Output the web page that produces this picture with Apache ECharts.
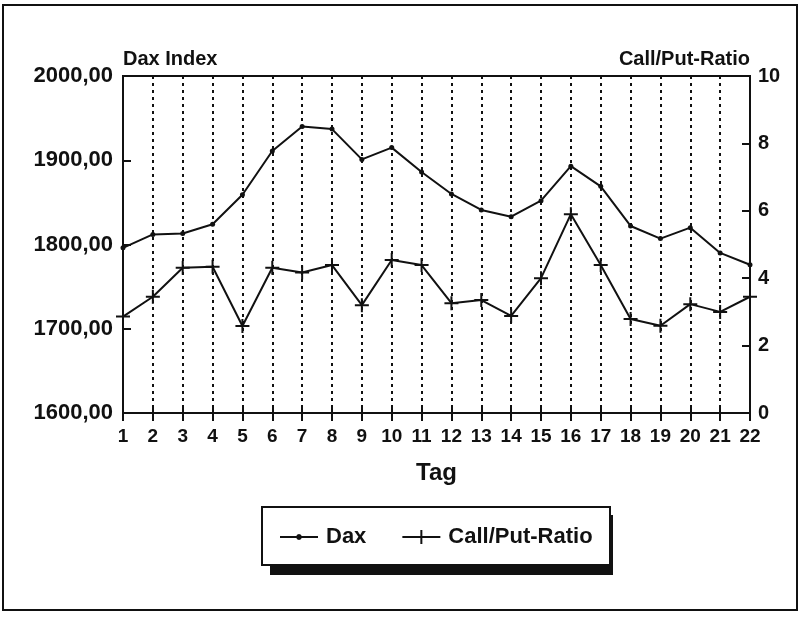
<!DOCTYPE html>
<html>
<head>
<meta charset="utf-8">
<script src="https://cdn.jsdelivr.net/npm/echarts@6/dist/echarts.min.js"></script>
<style>
  html, body { margin: 0; padding: 0; background: #fff; }
  #main { width: 800px; height: 618px; }
</style>
</head>
<body>
<div id="main"></div>
<script>
// Tage 1..22
var tage = ["1", "2", "3", "4", "5", "6", "7", "8", "9", "10", "11",
            "12", "13", "14", "15", "16", "17", "18", "19", "20", "21", "22"];
// Dax Index (linke Achse)
var dax = [1796, 1812, 1813, 1824, 1859, 1911, 1940, 1937, 1901, 1915, 1886,
           1860, 1841, 1833, 1852, 1893, 1869, 1822, 1807, 1820, 1790, 1776];
// Call/Put-Ratio (rechte Achse)
var ratio = [2.86, 3.45, 4.31, 4.34, 2.58, 4.31, 4.17, 4.39, 3.20, 4.54, 4.39,
             3.26, 3.35, 2.88, 4.00, 5.90, 4.39, 2.79, 2.59, 3.23, 3.00, 3.45];

var font = "'Liberation Sans', Arial, sans-serif";
var ink = "#111";
// Kreuz als Markierung
var plus = "path://M0,6H14V8H0Z M6,0H8V14H6Z";
// Legendensymbole: Linie mit Punkt / Linie mit Kreuz
var legDax = "path://M0,2H38V4H0Z M16,3L17,0.8L19,0L21,0.8L22,3L21,5.2L19,6L17,5.2Z";
var legRatio = "path://M0,6H38V8H0Z M18,0H20V14H18Z";

var myChart = echarts.init(document.getElementById("main"));

var option = {
  backgroundColor: "#fff",
  animation: false,
  textStyle: { fontFamily: font, fontWeight: "bold", color: ink },
  graphic: [
    {
      type: "rect", z: 1,
      shape: { x: 3, y: 5, width: 794, height: 605 },
      style: { fill: "none", stroke: ink, lineWidth: 2 }
    },
    {
      // Schatten der Legende
      type: "rect", z: 1,
      shape: { x: 270, y: 515, width: 343, height: 60 },
      style: { fill: ink }
    },
    {
      type: "rect", z: 2,
      shape: { x: 262, y: 507, width: 348, height: 58 },
      style: { fill: "#fff", stroke: ink, lineWidth: 2 }
    }
  ],
  grid: {
    left: 123, right: 50, top: 76, bottom: 205,
    show: true, borderColor: ink, borderWidth: 2, backgroundColor: "transparent"
  },
  legend: {
    left: 280, top: 526,
    padding: 0,
    z: 10,
    itemWidth: 38, itemHeight: 14, itemGap: 36,
    symbolKeepAspect: true,
    textStyle: { fontFamily: font, fontWeight: "bold", fontSize: 22, color: ink, padding: [0, 0, 0, 3] },
    data: [
      { name: "Dax", icon: legDax },
      { name: "Call/Put-Ratio", icon: legRatio }
    ]
  },
  xAxis: [
    {
      type: "category",
      data: tage,
      boundaryGap: false,
      name: "Tag",
      nameLocation: "middle",
      nameGap: 48,
      nameTextStyle: { fontFamily: font, fontWeight: "bold", fontSize: 24, color: ink },
      axisLine: { lineStyle: { color: ink, width: 2 } },
      axisTick: { show: true, inside: false, length: 8, lineStyle: { color: ink, width: 2 } },
      axisLabel: { margin: 14, fontSize: 19, fontWeight: "bold", color: ink, interval: 0 },
      splitLine: { show: true, lineStyle: { color: ink, width: 2, type: [3, 4] } }
    },
    {
      // nur innere Striche an der Achse
      type: "category",
      data: tage,
      boundaryGap: false,
      position: "bottom",
      axisLine: { show: false },
      axisTick: { show: true, inside: true, length: 7, lineStyle: { color: ink, width: 2 } },
      axisLabel: { show: false },
      splitLine: { show: false }
    }
  ],
  yAxis: [
    {
      type: "value",
      min: 1600, max: 2000, interval: 100,
      name: "Dax Index",
      nameLocation: "end",
      nameGap: 7,
      nameTextStyle: { fontFamily: font, fontWeight: "bold", fontSize: 20, color: ink, align: "left" },
      axisLine: { show: true, lineStyle: { color: ink, width: 2 } },
      axisTick: { show: true, inside: true, length: 8, lineStyle: { color: ink, width: 2 } },
      axisLabel: {
        margin: 10, fontSize: 22, fontWeight: "bold", color: ink,
        formatter: function (v) { return v.toFixed(2).replace(".", ","); }
      },
      splitLine: { show: false }
    },
    {
      type: "value",
      min: 0, max: 10, interval: 2,
      name: "Call/Put-Ratio",
      nameLocation: "end",
      nameGap: 7,
      nameTextStyle: { fontFamily: font, fontWeight: "bold", fontSize: 20, color: ink, align: "right" },
      axisLine: { show: true, lineStyle: { color: ink, width: 2 } },
      axisTick: { show: true, inside: true, length: 8, lineStyle: { color: ink, width: 2 } },
      axisLabel: { margin: 8, fontSize: 20, fontWeight: "bold", color: ink },
      splitLine: { show: false }
    }
  ],
  series: [
    {
      name: "Dax",
      type: "line",
      yAxisIndex: 0,
      data: dax,
      symbol: "circle",
      symbolSize: 5,
      showAllSymbol: true,
      lineStyle: { color: ink, width: 2 },
      itemStyle: { color: ink }
    },
    {
      name: "Call/Put-Ratio",
      type: "line",
      yAxisIndex: 1,
      data: ratio,
      symbol: plus,
      symbolSize: 14,
      showAllSymbol: true,
      lineStyle: { color: ink, width: 2 },
      itemStyle: { color: ink }
    }
  ]
};

myChart.setOption(option);
</script>
</body>
</html>
